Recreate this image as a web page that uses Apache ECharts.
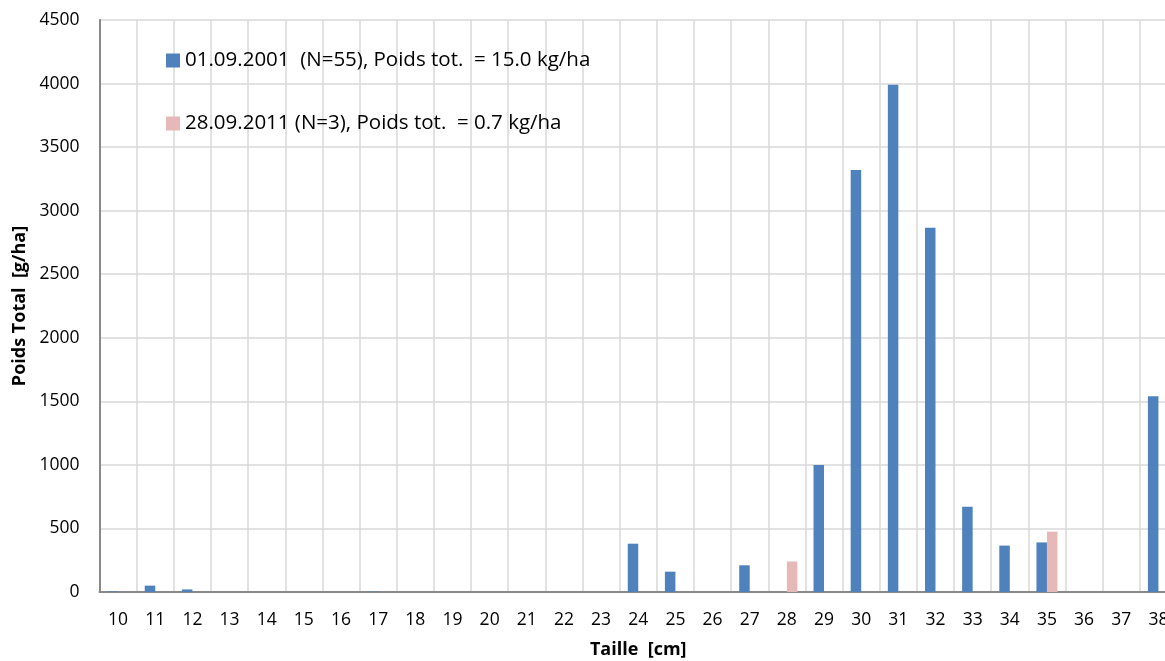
<!DOCTYPE html>
<html>
<head>
<meta charset="utf-8">
<script src="https://cdn.jsdelivr.net/npm/echarts@6/dist/echarts.min.js"></script>
<style>
  html, body { margin: 0; padding: 0; background: #fff; overflow: hidden; }
  /* the original chart is cut on the right: the canvas is a bit wider than the window */
  #chart { width: 1177px; height: 661px; }
</style>
</head>
<body>
<div id="chart"></div>
<script>
// tailles (cm)
const categories = ['10','11','12','13','14','15','16','17','18','19','20','21','22','23','24',
  '25','26','27','28','29','30','31','32','33','34','35','36','37','38'];
// 01.09.2001
const serie2001 = [5, 50, 20, 0, 0, 0, 0, 3, 0, 0, 0, 0, 0, 0, 380,
  160, 0, 210, 0, 1000, 3320, 3990, 2865, 670, 365, 390, 0, 0, 1540];
// 28.09.2011
const serie2011 = [0, 0, 0, 0, 0, 0, 0, 0, 0, 0, 0, 0, 0, 0, 0,
  0, 0, 0, 240, 0, 0, 0, 0, 0, 0, 475, 0, 0, 0];
const names = ['01.09.2001  (N=55), Poids tot.  = 15.0 kg/ha', '28.09.2011 (N=3), Poids tot.  = 0.7 kg/ha'];

const font = 'Open Sans';
const chart = echarts.init(document.getElementById('chart'));

let option = {
  animation: false,
  textStyle: { fontFamily: font },
  grid: {
    left: 99.5,
    top: 20,
    right: 0,
    bottom: 69,
    outerBoundsMode: 'none',
    containLabel: false
  },
  legend: {
    orient: 'vertical',
    left: 161,
    top: 45,
    itemWidth: 14,
    itemHeight: 14,
    itemGap: 42,
    itemTextGap: 6,
    icon: 'rect',
    textStyle: { fontSize: 20.5, color: '#000', fontFamily: font },
    data: names
  },
  xAxis: {
    type: 'category',
    data: categories,
    name: 'Taille  [cm]',
    nameLocation: 'middle',
    nameGap: 49,
    nameTextStyle: { fontSize: 18, fontWeight: 'bold', color: '#000' },
    axisLine: { lineStyle: { color: '#898989', width: 2 } },
    axisTick: { show: false },
    axisLabel: { fontSize: 17.5, color: '#000', margin: 19, interval: 0 },
    splitLine: { show: true, interval: 0, lineStyle: { color: '#d9d9d9', width: 1.5 } }
  },
  yAxis: {
    type: 'value',
    min: 0,
    max: 4500,
    interval: 500,
    name: 'Poids Total  [g/ha]',
    nameLocation: 'middle',
    nameGap: 68,
    nameTextStyle: { fontSize: 18, fontWeight: 'bold', color: '#000' },
    axisLine: { show: true, lineStyle: { color: '#898989', width: 2 } },
    axisTick: { show: false },
    axisLabel: { fontSize: 17.5, color: '#000', margin: 20, formatter: v => String(v) },
    splitLine: { lineStyle: { color: '#d9d9d9', width: 1.5 } }
  },
  series: [{
    name: names[0],
    type: 'bar',
    barWidth: 10.5,
    barGap: 0,
    itemStyle: { color: '#4f81bd' },
    data: serie2001
  }, {
    name: names[1],
    type: 'bar',
    barWidth: 10.5,
    barGap: 0,
    itemStyle: { color: '#e6b9b8' },
    data: serie2011
  }]
};
chart.setOption(option);
</script>
</body>
</html>
